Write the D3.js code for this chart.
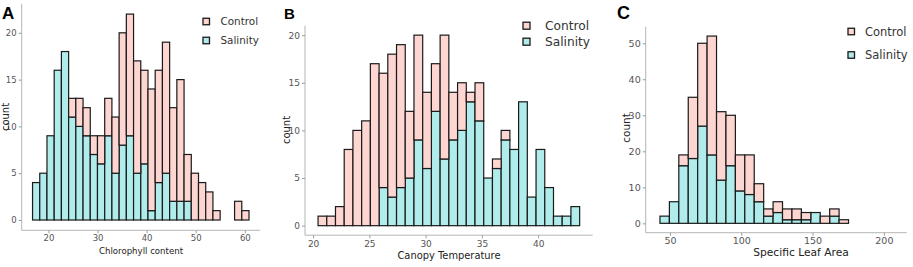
<!DOCTYPE html>
<html>
<head>
<meta charset="utf-8">
<script src="https://cdn.jsdelivr.net/npm/d3@7"></script>
<style>
  body { margin: 0; background: #fff; }
  svg { display: block; }
</style>
</head>
<body>
<svg id="chart"></svg>
<script>
// histogram counts, one entry per bin (stacked: salinity below, control above)
const groups = ["Control", "Salinity"];

const chlStart = 16.76, chlWidth = 1.47;
const chlControl  = [0,0,0,0,0,2,3,3,2,3,4,6,12,13,12,10,13,12,14,10,13,5,5,4,3,1,0,0,2,1];
const chlSalinity = [4,5,9,16,18,11,10,9,7,6,9,5,8,9,5,6,1,4,5,2,2,2,0,0,0,0,0,0,0,0];

const ctStart = 20.44, ctWidth = 0.775;
const ctControl  = [1,1,2,8,10,11,17,12,15,15,7,11,8,5,13,5,5,1,4,0,1,1,0,0,0,0,0,0,0,0];
const ctSalinity = [0,0,0,0,0,0,0,4,3,4,5,9,6,12,7,9,10,13,11,5,6,9,8,13,3,8,4,1,1,2];

const slaStart = 43, slaWidth = 6.61;
const slaControl  = [0,0,3,17,23,33,19,14,10,11,5,2,3,3,3,2,0,2,2,1];
const slaSalinity = [2,6,16,18,27,19,12,16,9,8,6,2,3,1,1,1,3,0,2,0];

const chlXTicks = [20, 30, 40, 50, 60];
const ctXTicks = [20, 25, 30, 35, 40];
const slaXTicks = [50, 100, 150, 200];
const countTicks20 = [0, 5, 10, 15, 20];
const countTicks50 = [0, 10, 20, 30, 40, 50];

const colors = { Control: "#fdd5d1", Salinity: "#afeceb" };

const svg = d3.select("#chart").attr("width", 913).attr("height", 267);
svg.append("rect").attr("width", 913).attr("height", 267).attr("fill", "#fff");

function drawPanel(p) {
  const x = d3.scaleLinear().domain(p.xDomain).range(p.xRange);
  const y = d3.scaleLinear().domain(p.yDomain).range(p.yRange);
  const g = svg.append("g");

  const bins = p.control.map((c, i) => ({
    x0: p.start + i * p.width,
    x1: p.start + (i + 1) * p.width,
    sal: p.salinity[i],
    ctrl: c
  }));

  // salinity at the bottom
  g.selectAll("rect.sal")
    .data(bins.filter(d => d.sal > 0))
    .enter().append("rect")
    .attr("class", "sal")
    .attr("x", d => x(d.x0))
    .attr("width", d => x(d.x1) - x(d.x0))
    .attr("y", d => y(d.sal))
    .attr("height", d => y(0) - y(d.sal))
    .attr("fill", colors.Salinity)
    .attr("stroke", "#1a1a1a")
    .attr("stroke-width", 1.2);

  // control stacked on top
  g.selectAll("rect.ctrl")
    .data(bins.filter(d => d.ctrl > 0))
    .enter().append("rect")
    .attr("class", "ctrl")
    .attr("x", d => x(d.x0))
    .attr("width", d => x(d.x1) - x(d.x0))
    .attr("y", d => y(d.sal + d.ctrl))
    .attr("height", d => y(d.sal) - y(d.sal + d.ctrl))
    .attr("fill", colors.Control)
    .attr("stroke", "#1a1a1a")
    .attr("stroke-width", 1.2);

  const xAxis = g.append("g")
    .attr("transform", `translate(0,${p.yRange[0]})`)
    .call(d3.axisBottom(x).tickValues(p.xTicks).tickSize(3).tickPadding(2));
  const yAxis = g.append("g")
    .attr("transform", `translate(${p.xRange[0]},0)`)
    .call(d3.axisLeft(y).tickValues(p.yTicks).tickSize(3).tickPadding(2));

  [xAxis, yAxis].forEach(a => {
    a.select(".domain").attr("stroke", "#b5b5b5").attr("stroke-width", 1);
    a.selectAll(".tick line").attr("stroke", "#9a9a9a");
    a.selectAll(".tick text")
      .attr("fill", "#555")
      .style("font-family", "DejaVu Sans, sans-serif")
      .style("font-size", p.tickSize + "px");
  });
  // extend axis lines over the full panel
  xAxis.select(".domain").attr("d", `M${p.xRange[0]},0H${p.xRange[1]}`);
  yAxis.select(".domain").attr("d", `M0,${p.yRange[0]}V${p.yRange[1]}`);

  g.append("text")
    .attr("x", p.xTitlePos[0]).attr("y", p.xTitlePos[1])
    .attr("text-anchor", "middle")
    .style("font-family", "DejaVu Sans, sans-serif")
    .style("font-size", p.titleSize + "px")
    .attr("fill", "#222")
    .text(p.xTitle);

  g.append("text")
    .attr("transform", `translate(${p.yTitlePos[0]},${p.yTitlePos[1]}) rotate(-90)`)
    .attr("text-anchor", "middle")
    .style("font-family", "DejaVu Sans, sans-serif")
    .style("font-size", p.countSize + "px")
    .attr("fill", "#222")
    .text("count");

  g.append("text")
    .attr("x", p.labelPos[0]).attr("y", p.labelPos[1])
    .style("font-family", "Liberation Sans, Arial, sans-serif")
    .style("font-weight", "bold")
    .style("font-size", p.labelSize + "px")
    .attr("fill", "#000")
    .text(p.label);

  const leg = g.selectAll("g.leg")
    .data(groups)
    .enter().append("g")
    .attr("transform", (d, i) => `translate(${p.legendPos[0]},${p.legendPos[1] + i * p.legendGap})`);
  leg.append("rect")
    .attr("x", 0).attr("y", -p.keySize / 2)
    .attr("width", p.keySize).attr("height", p.keySize)
    .attr("fill", d => colors[d])
    .attr("stroke", "#1a1a1a")
    .attr("stroke-width", 1.3);
  leg.append("text")
    .attr("x", p.legendTextDx).attr("y", 0)
    .attr("dy", "0.35em")
    .style("font-family", "DejaVu Sans, sans-serif")
    .style("font-size", p.legendSize + "px")
    .attr("fill", "#333")
    .text(d => d);
}

drawPanel({
  label: "A", labelPos: [2, 19], labelSize: 17,
  start: chlStart, width: chlWidth, control: chlControl, salinity: chlSalinity,
  xDomain: [14.55, 63.1], xRange: [21.7, 260],
  yDomain: [-1.1, 23.1], yRange: [230.3, 3.8],
  xTicks: chlXTicks, yTicks: countTicks20,
  xTitle: "Chlorophyll content", xTitlePos: [141, 254], titleSize: 8.6,
  yTitlePos: [9, 117], countSize: 10,
  tickSize: 8.5,
  legendPos: [203, 21.5], legendGap: 19, keySize: 6.5, legendTextDx: 17.5, legendSize: 10.4
});

drawPanel({
  label: "B", labelPos: [284, 18.5], labelSize: 15,
  start: ctStart, width: ctWidth, control: ctControl, salinity: ctSalinity,
  xDomain: [19.28, 44.85], xRange: [305, 592.7],
  yDomain: [-1, 21], yRange: [235.2, 25.6],
  xTicks: ctXTicks, yTicks: countTicks20,
  xTitle: "Canopy Temperature", xTitlePos: [449, 258.5], titleSize: 9.9,
  yTitlePos: [289.5, 130], countSize: 10,
  tickSize: 9,
  legendPos: [523, 25.7], legendGap: 16, keySize: 7, legendTextDx: 22, legendSize: 12.2
});

drawPanel({
  label: "C", labelPos: [617, 18.5], labelSize: 18,
  start: slaStart, width: slaWidth, control: slaControl, salinity: slaSalinity,
  xDomain: [33, 216], xRange: [645.7, 906.7],
  yDomain: [-2.6, 54.6], yRange: [232.7, 26.7],
  xTicks: slaXTicks, yTicks: countTicks50,
  xTitle: "Specific Leaf Area", xTitlePos: [801, 255.5], titleSize: 10.7,
  yTitlePos: [630, 128], countSize: 10.5,
  tickSize: 9.5,
  legendPos: [848, 31.5], legendGap: 23.5, keySize: 6.5, legendTextDx: 17, legendSize: 11.5
});
</script>
</body>
</html>
